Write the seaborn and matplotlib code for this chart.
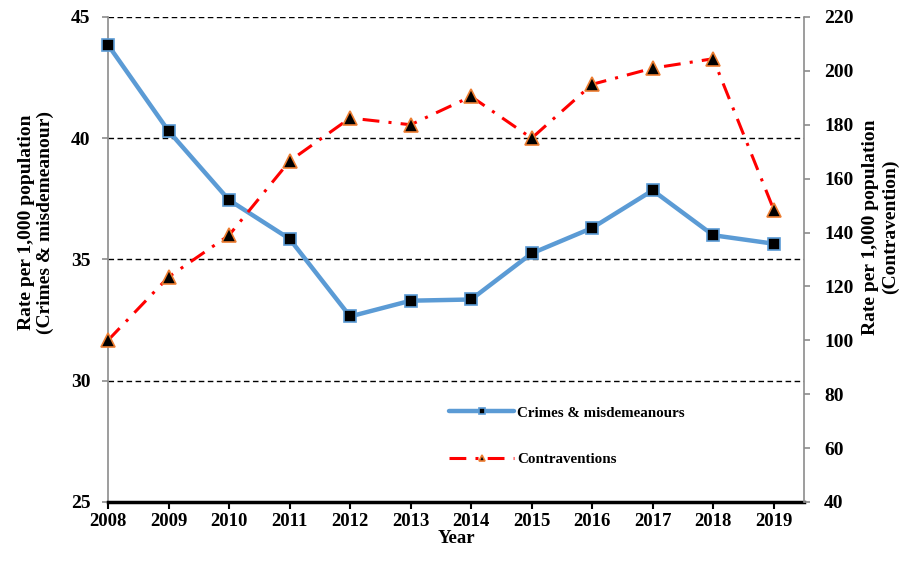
import pandas as pd
import seaborn as sns
import matplotlib

matplotlib.use('Agg')
import matplotlib.pyplot as plt

years = [2008, 2009, 2010, 2011, 2012, 2013, 2014, 2015, 2016, 2017, 2018, 2019]
crimes = [43.85, 40.3, 37.45, 35.85, 32.65, 33.3, 33.35, 35.25, 36.3, 37.85, 36.0, 35.65]
contraventions = [100, 123.5, 139, 166.5, 182.5, 180, 190.5, 175, 195, 201, 204.5, 148.5]

left_ticks = [25, 30, 35, 40, 45]
right_ticks = [40, 60, 80, 100, 120, 140, 160, 180, 200, 220]

df = pd.DataFrame({"Year": years, "Crimes": crimes, "Contraventions": contraventions})

sns.set_style("white")
plt.rcParams['font.family'] = ['Liberation Serif', 'DejaVu Serif']
plt.rcParams['font.weight'] = 'bold'
plt.rcParams['text.color'] = 'black'
plt.rcParams['axes.labelcolor'] = 'black'
plt.rcParams['xtick.labelcolor'] = 'black'
plt.rcParams['ytick.labelcolor'] = 'black'

fig = plt.figure(figsize=(9.06, 5.62), dpi=100)
ax = fig.add_axes([0.1192, 0.1068, 0.7682, 0.863])
ax2 = ax.twinx()

# gridlines (left axis)
for v in left_ticks[1:]:
    ax.axhline(v, color='black', lw=1, ls=(0, (4, 2.5)), zorder=0)

sns.lineplot(data=df, x="Year", y="Crimes", ax=ax, color='#5B9BD5', lw=3.2,
             marker='s', markersize=8, markerfacecolor='black',
             markeredgecolor='#5B9BD5', markeredgewidth=1.2,
             label='Crimes & misdemeanours', legend=False, zorder=3, clip_on=False)
sns.lineplot(data=df, x="Year", y="Contraventions", ax=ax2, color='#FF0000', lw=2.2,
             dashes=False, marker='^', markersize=10, markerfacecolor='black',
             markeredgecolor='#ED7D31', markeredgewidth=1.2,
             label='Contraventions', legend=False, zorder=3, clip_on=False)
ax2.lines[0].set_linestyle((0, (5.5, 3, 1, 3)))

ax.set_xlim(2008, 2019.5)
ax.set_ylim(25, 45)
ax2.set_ylim(40, 220)
ax.set_xticks(years)
ax.set_xticklabels([str(y) for y in years])
ax.set_yticks(left_ticks)
ax2.set_yticks(right_ticks)

for a in (ax, ax2):
    for s in a.spines.values():
        s.set_visible(False)
ax.spines['left'].set_visible(True)
ax.spines['left'].set_color('#8c8c8c')
ax.spines['left'].set_linewidth(1.2)
ax2.spines['right'].set_visible(True)
ax2.spines['right'].set_color('#8c8c8c')
ax2.spines['right'].set_linewidth(1.2)
ax.spines['bottom'].set_visible(True)
ax.spines['bottom'].set_color('black')
ax.spines['bottom'].set_linewidth(2.5)
ax.spines['bottom'].set_zorder(5)

ax.tick_params(axis='y', which='major', left=True, direction='out', length=4.5, width=1.2,
               color='#8c8c8c', labelcolor='black', labelsize=14, pad=8)
ax2.tick_params(axis='y', which='major', right=True, direction='out', length=4.5, width=1.2,
                color='#8c8c8c', labelcolor='black', labelsize=14, pad=10)
ax.tick_params(axis='x', which='major', bottom=True, direction='out', length=5, width=1.5,
               color='black', labelcolor='black', labelsize=13.5, pad=3)

ax.set_xlabel("Year", fontsize=13.5, fontweight='bold', labelpad=0, color='black')
ax.set_ylabel("Rate per 1,000 population\n(Crimes & misdemeanour)", fontsize=14,
              fontweight='bold', linespacing=1.15, color='black')
ax2.set_ylabel("Rate per 1,000 population\n(Contravention)", fontsize=14,
               fontweight='bold', linespacing=1.15, color='black')
ax.yaxis.set_label_coords(-0.077, 0.577)
ax2.yaxis.set_label_coords(1.084, 0.567)

h1, l1 = ax.get_legend_handles_labels()
h2, l2 = ax2.get_legend_handles_labels()
leg = fig.legend(h1 + h2, l1 + l2, loc='center left', bbox_to_anchor=(0.481, 0.224),
                 frameon=False, fontsize=10.8, handlelength=4.3, labelspacing=2.2,
                 markerscale=0.5, handletextpad=0.2)
for t in leg.get_texts():
    t.set_color('black')

plt.savefig("out.png", dpi=100)
